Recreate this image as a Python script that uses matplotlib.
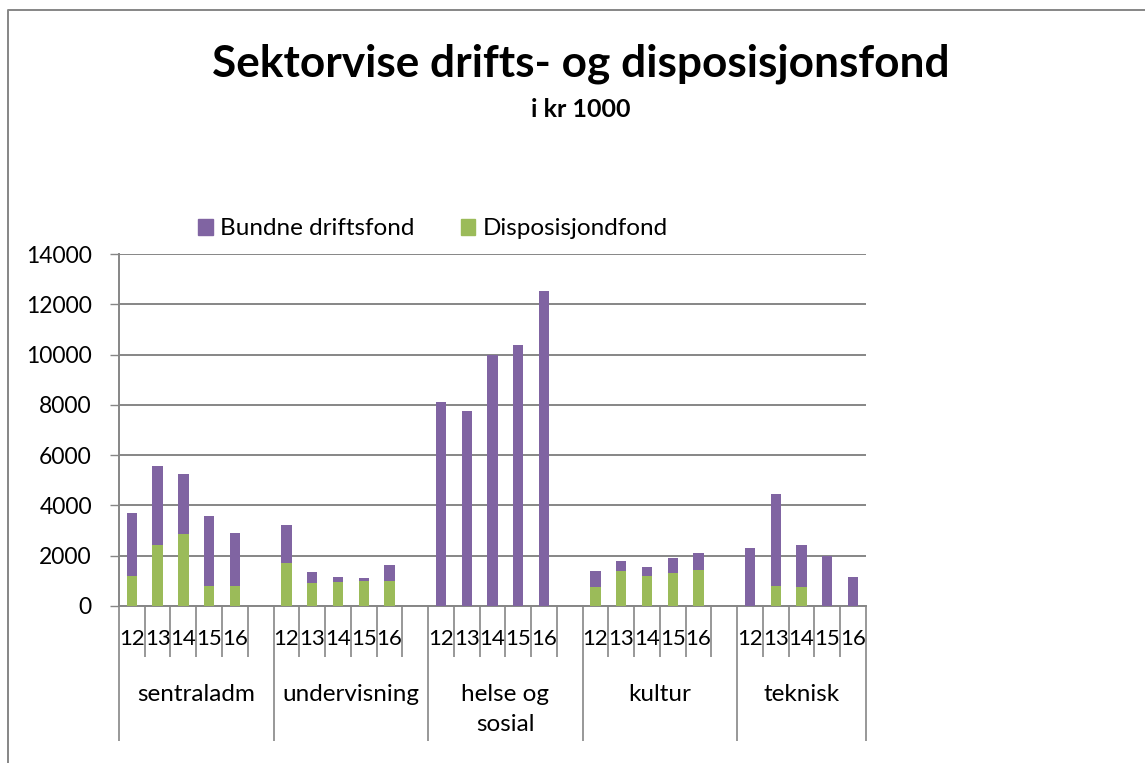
import numpy as np
import matplotlib
matplotlib.use("Agg")
from matplotlib import pyplot as plt
from matplotlib.lines import Line2D
from matplotlib.patches import Patch

# data (kr 1000)
sectors = ["sentraladm", "undervisning", "helse og\nsosial", "kultur", "teknisk"]
years = ["12", "13", "14", "15", "16"]
# Disposisjondfond (green, bottom)
dispfond = [
    [1200, 2420, 2870, 810, 810],     # sentraladm
    [1690, 920, 960, 980, 980],       # undervisning
    [0, 0, 0, 0, 0],                  # helse og sosial
    [760, 1400, 1200, 1300, 1430],    # kultur
    [0, 810, 770, 0, 0],              # teknisk
]
# Bundne driftsfond (purple, on top) = total - green
bundne = [
    [2500, 3130, 2370, 2780, 2090],
    [1550, 440, 200, 140, 650],
    [8110, 7760, 9980, 10400, 12540],
    [640, 380, 340, 590, 680],
    [2290, 3660, 1660, 1980, 1140],
]

purple = "#8064A2"
green = "#9BBB59"
gray = "#868686"
plt.rcParams['font.family'] = ['Lato', 'DejaVu Sans']

fig = plt.figure(figsize=(11.45, 7.63), dpi=100)
ax = fig.add_axes([0.1039, 0.2058, 0.6524, 0.4613])

nslot = len(years) + 1   # 5 years + one empty slot between sectors
nslots_total = nslot * len(sectors) - 1
for g in range(len(sectors)):
    x = np.arange(len(years)) + g * nslot
    ax.bar(x, dispfond[g], width=0.40, color=green, zorder=3)
    ax.bar(x, bundne[g], width=0.40, bottom=dispfond[g], color=purple, zorder=3)

ax.set_xlim(-0.5, nslots_total - 0.5)
ax.set_ylim(0, 14000)
ax.set_yticks(np.arange(0, 14001, 2000))
ax.yaxis.grid(True, color=gray, linewidth=1.4, zorder=0)
ax.tick_params(axis='y', length=6.5, width=1, color=gray, labelsize=16.5, pad=13)
for s in ["top", "right"]:
    ax.spines[s].set_visible(False)
for s in ["left", "bottom"]:
    ax.spines[s].set_color(gray)
    ax.spines[s].set_linewidth(1.4)

# category ticks: long between sectors, short between years
major = list(np.arange(-0.5, nslots_total, nslot)) + [nslots_total - 0.5]
ax.set_xticks(major)
ax.set_xticklabels([])
ax.set_xticks(np.arange(-0.5, nslots_total, 1), minor=True)
ax.tick_params(axis='x', which='major', length=97, width=1.2, color=gray)
ax.tick_params(axis='x', which='minor', length=37, width=1.2, color=gray)

trans = ax.get_xaxis_transform()
for g, name in enumerate(sectors):
    for i, yr in enumerate(years):
        ax.text(i + g * nslot, -0.095, yr, transform=trans, ha='center', va='center', fontsize=16)
    right = min(g * nslot + nslot - 0.5, nslots_total - 0.5)
    xc = (g * nslot - 0.5 + right) / 2
    ax.text(xc, -0.222, name, transform=trans, ha='center', va='top',
            fontsize=17.5, linespacing=1.5)

# legend
handles = [Patch(color=purple, label="Bundne driftsfond"), Patch(color=green, label="Disposisjondfond")]
fig.legend(handles=handles, loc='center', bbox_to_anchor=(0.378, 0.7), ncol=2, frameon=False,
           fontsize=17.5, handlelength=0.6, handleheight=0.6, handletextpad=0.3, columnspacing=1.9)

fig.text(0.507, 0.917, "Sektorvise drifts- og disposisjonsfond", ha='center', va='center',
         fontsize=31.8, fontweight='bold')
fig.text(0.507, 0.857, "i kr 1000", ha='center', va='center', fontsize=18, fontweight='bold')

# chart area border (left and top)
fig.add_artist(Line2D([8 / 1145, 8 / 1145, 1], [0, 1 - 10 / 763, 1 - 10 / 763], color=gray, linewidth=1.4))

fig.savefig("out.png", dpi=100)
